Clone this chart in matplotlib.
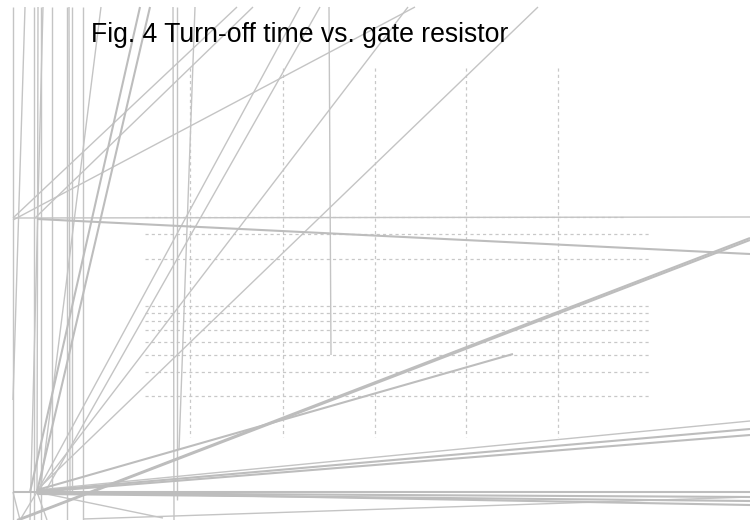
import matplotlib
matplotlib.use("Agg")
import matplotlib.pyplot as plt

# ---- data (pixel-space coordinates of the drawing, y down) ----
title_text = "Fig. 4 Turn-off time vs. gate resistor"

# dotted grid
grid_rows_y = [217, 234, 259, 306, 313, 321, 330, 342, 355, 372, 396]
grid_rows_x_end = [625, 650, 650, 650, 650, 650, 650, 650, 650, 650, 650]
grid_rows_x_start = 145
grid_cols_x = [190, 283, 375, 466, 558]
grid_cols_y = (68, 437)

# thin solid strokes: start x, start y, end x, end y
thin_x0 = [13, 25, 34, 38, 41, 43, 52, 67, 69, 72, 83, 101, 173, 177, 195, 329, 13, 13, 237, 253, 408, 538, 300, 320, 37, 83, 13, 37, 37, 37]
thin_y0 = [7, 7, 7, 7, 7, 7, 7, 7, 7, 7, 7, 7, 7, 7, 7, 7, 218, 220, 7, 7, 7, 7, 7, 7, 490, 519, 492, 492, 492, 492]
thin_x1 = [13, 13, 34, 37, 41, 30, 52, 67, 70, 72, 83, 40, 174, 177, 179, 331, 750, 415, 13, 35, 37, 37, 37, 45, 750, 750, 20, 20, 47, 163]
thin_y1 = [520, 400, 520, 492, 520, 520, 492, 520, 492, 492, 520, 492, 520, 500, 450, 355, 217, 7, 218, 218, 492, 490, 492, 492, 421, 497, 520, 520, 520, 518]

# heavier solid strokes
thick_x0 = [140, 150, 37, 17, 19, 37, 37, 37, 13, 37, 37, 37]
thick_y0 = [7, 7, 219, 520, 520, 490, 491, 492, 492, 493, 494, 492]
thick_x1 = [30, 37, 750, 750, 750, 513, 750, 750, 750, 750, 750, 750]
thick_y1 = [492, 492, 254, 238, 240, 354, 429, 435, 492, 497, 501, 505]

W, H = 750, 520
fig = plt.figure(figsize=(W / 100, H / 100), dpi=100)
ax = fig.add_axes([0, 0, 1, 1])
ax.set_xlim(0, W)
ax.set_ylim(H, 0)
ax.axis("off")

grid_color = "#c8c8c8"
for y, xe in zip(grid_rows_y, grid_rows_x_end):
    ax.plot([grid_rows_x_start, xe], [y, y], color=grid_color, lw=0.9,
            linestyle=(0, (2.5, 2.5)))
for x in grid_cols_x:
    ax.plot([x, x], list(grid_cols_y), color=grid_color, lw=0.9,
            linestyle=(0, (2.5, 2.5)))

for a, b, c, d in zip(thin_x0, thin_y0, thin_x1, thin_y1):
    ax.plot([a, c], [b, d], color="#c4c4c4", lw=1.0, solid_capstyle="butt")
for a, b, c, d in zip(thick_x0, thick_y0, thick_x1, thick_y1):
    ax.plot([a, c], [b, d], color="#bdbdbd", lw=1.5, solid_capstyle="butt")

ax.text(91, 42, title_text, fontsize=19.2, family=["Liberation Sans", "DejaVu Sans"],
        color="black", va="baseline", ha="left")

fig.savefig("out.png", dpi=100)
